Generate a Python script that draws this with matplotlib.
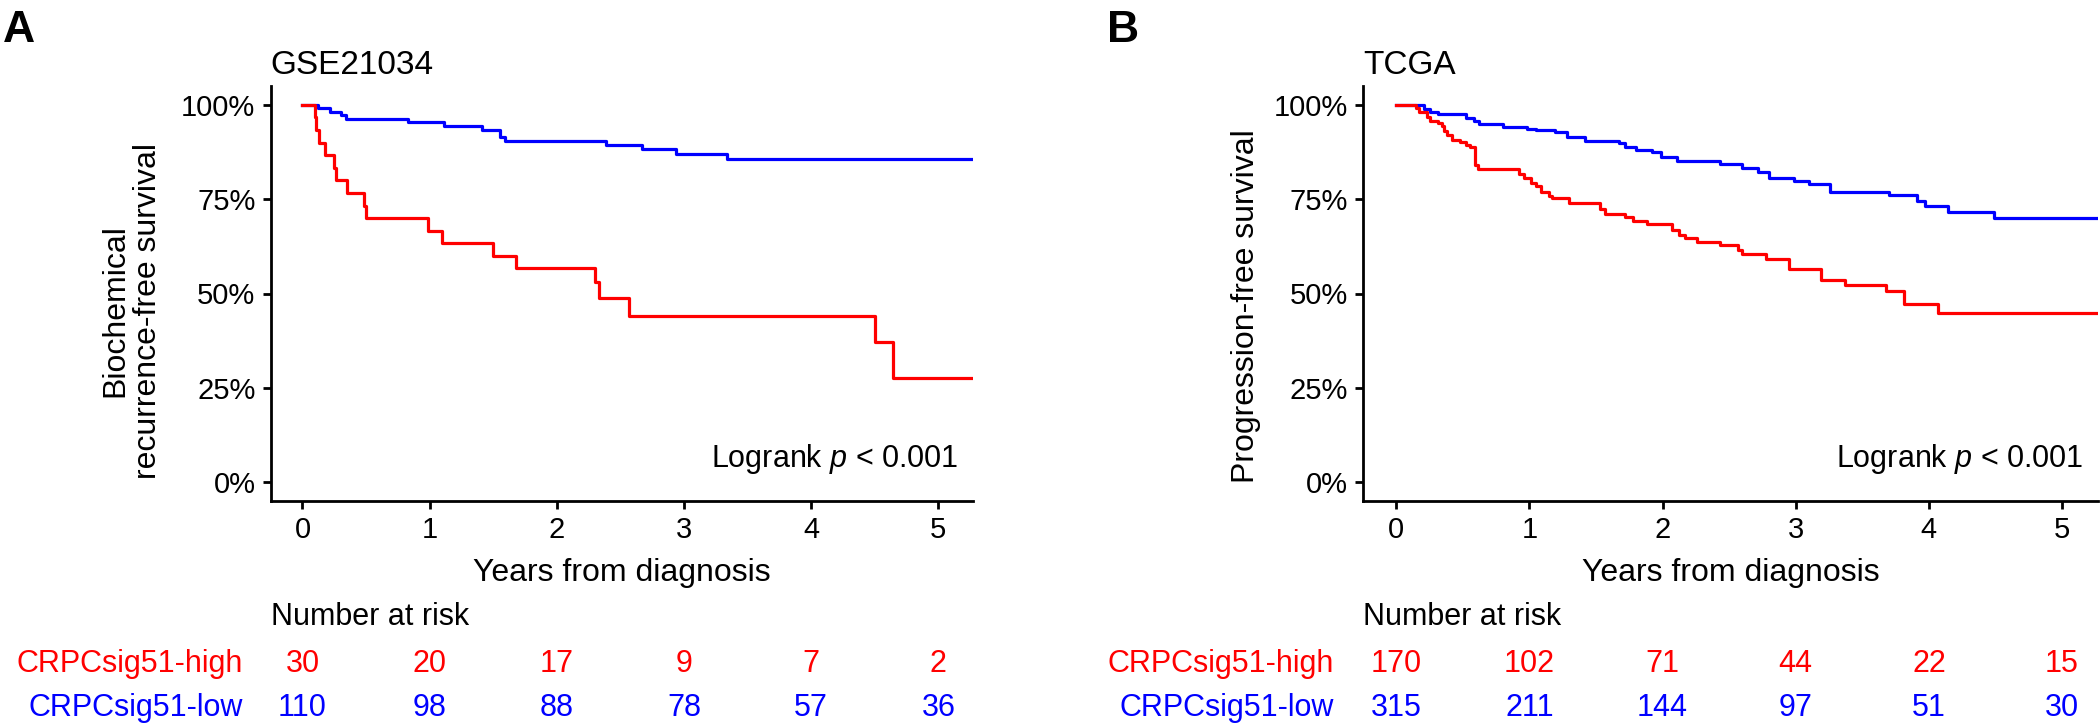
import matplotlib
matplotlib.use('Agg')
import matplotlib.pyplot as plt
import matplotlib.transforms as mtransforms

plt.rcParams['font.family'] = ['Liberation Sans', 'DejaVu Sans']
plt.rcParams['mathtext.fontset'] = 'custom'
plt.rcParams['mathtext.rm'] = 'Liberation Sans'
plt.rcParams['mathtext.it'] = 'Liberation Sans:italic'

# ---- data ----
risk_years = [0, 1, 2, 3, 4, 5]

# GSE21034
gse_high_time = [0.10, 0.11, 0.13, 0.18, 0.25, 0.26, 0.35, 0.48, 0.50, 0.99,
                 1.10, 1.50, 1.68, 2.30, 2.33, 2.57, 4.50, 4.64, 5.30]
gse_high_surv = [0.967, 0.933, 0.900, 0.867, 0.833, 0.800, 0.767, 0.733, 0.700, 0.666,
                 0.633, 0.600, 0.567, 0.531, 0.489, 0.440, 0.371, 0.275, 0.275]
gse_low_time = [0.12, 0.22, 0.30, 0.34, 0.83, 1.11, 1.41, 1.55, 1.59,
                2.39, 2.67, 2.94, 3.34, 5.30]
gse_low_surv = [0.991, 0.982, 0.972, 0.962, 0.954, 0.943, 0.934, 0.915, 0.905,
                0.894, 0.883, 0.870, 0.857, 0.857]
gse_risk_high = [30, 20, 17, 9, 7, 2]
gse_risk_low = [110, 98, 88, 78, 57, 36]

# TCGA
tcga_high_time = [0.15, 0.17, 0.23, 0.25, 0.31, 0.34, 0.36, 0.38, 0.42, 0.48,
                  0.52, 0.555, 0.59, 0.61, 0.92, 0.96, 1.015, 1.05, 1.09, 1.15,
                  1.17, 1.30, 1.53, 1.57, 1.72, 1.78, 1.88, 2.07, 2.125, 2.165,
                  2.26, 2.43, 2.565, 2.60, 2.78, 2.95, 3.19, 3.37, 3.68, 3.81,
                  4.07, 5.30]
tcga_high_surv = [0.991, 0.982, 0.969, 0.956, 0.951, 0.944, 0.932, 0.920, 0.907, 0.902,
                  0.894, 0.889, 0.841, 0.829, 0.817, 0.805, 0.792, 0.784, 0.768, 0.759,
                  0.752, 0.741, 0.723, 0.712, 0.704, 0.693, 0.684, 0.669, 0.655, 0.646,
                  0.637, 0.629, 0.615, 0.605, 0.591, 0.565, 0.536, 0.522, 0.506, 0.472,
                  0.448, 0.448]
tcga_low_time = [0.21, 0.25, 0.31, 0.52, 0.58, 0.62, 0.80, 0.98, 1.05, 1.19,
                 1.28, 1.42, 1.67, 1.72, 1.80, 1.92, 1.99, 2.11, 2.43, 2.60,
                 2.72, 2.80, 2.99, 3.10, 3.26, 3.70, 3.91, 3.97, 4.14, 4.49, 5.30]
tcga_low_surv = [0.989, 0.980, 0.975, 0.965, 0.956, 0.950, 0.941, 0.937, 0.934, 0.927,
                 0.916, 0.905, 0.899, 0.888, 0.881, 0.875, 0.861, 0.851, 0.843, 0.832,
                 0.823, 0.805, 0.799, 0.790, 0.770, 0.761, 0.744, 0.732, 0.715, 0.699, 0.699]
tcga_risk_high = [170, 102, 71, 44, 22, 15]
tcga_risk_low = [315, 211, 144, 97, 51, 30]

RED = '#FF0000'
BLUE = '#0000FF'

fig = plt.figure(figsize=(21, 7.28), dpi=100)

panels = [
    dict(rect=[270.7 / 2100, 227 / 728, 702 / 2100, 415 / 728], letter='A', letter_x=3 / 2100,
         title='GSE21034', ylabel='Biochemical\nrecurrence-free survival',
         ylab_x=132 / 2100, ylab_y=1 - 311 / 728,
         high=(gse_high_time, gse_high_surv), low=(gse_low_time, gse_low_surv),
         risk_high=gse_risk_high, risk_low=gse_risk_low),
    dict(rect=[1363 / 2100, 227 / 728, 735 / 2100, 415 / 728], letter='B', letter_x=1107 / 2100,
         title='TCGA', ylabel='Progression-free survival',
         ylab_x=1246 / 2100, ylab_y=1 - 306 / 728,
         high=(tcga_high_time, tcga_high_surv), low=(tcga_low_time, tcga_low_surv),
         risk_high=tcga_risk_high, risk_low=tcga_risk_low),
]

for p in panels:
    ax = fig.add_axes(p['rect'])
    for (t, s), col in [(p['low'], BLUE), (p['high'], RED)]:
        ax.step([0] + t, [1.0] + s, where='post', color=col, lw=2.3)
    ax.set_xlim(-0.25, 5.27)
    ax.set_ylim(-0.05, 1.05)
    ax.set_xticks(risk_years)
    ax.set_yticks([0, 0.25, 0.5, 0.75, 1.0])
    ax.set_yticklabels(['0%', '25%', '50%', '75%', '100%'])
    for side in ['top', 'right']:
        ax.spines[side].set_visible(False)
    for side in ['left', 'bottom']:
        ax.spines[side].set_linewidth(2)
    ax.tick_params(axis='both', labelsize=21, length=6, width=2, pad=5)
    ax.set_xlabel('Years from diagnosis', fontsize=23, labelpad=10)
    ax.set_title(p['title'], loc='left', fontsize=24, pad=9)
    ax.text(0.98, 0.10, r'Logrank $\mathit{p}$ < 0.001', transform=ax.transAxes,
            ha='right', va='center', fontsize=22)

    fig.text(p['ylab_x'], p['ylab_y'], p['ylabel'], rotation=90, ha='center', va='center',
             fontsize=23, linespacing=1.1, multialignment='center')
    fig.text(p['letter_x'], 1 - 10 / 728, p['letter'], ha='left', va='top',
             fontsize=32, fontweight='bold')

    # risk table
    tr_data = mtransforms.blended_transform_factory(ax.transData, fig.transFigure)
    tr_axes = mtransforms.blended_transform_factory(ax.transAxes, fig.transFigure)
    fig.text(0.0, 1 - 617 / 728, 'Number at risk', transform=tr_axes,
             ha='left', va='center', fontsize=22)
    rows = [('CRPCsig51-high', p['risk_high'], RED, 1 - 664 / 728),
            ('CRPCsig51-low', p['risk_low'], BLUE, 1 - 708 / 728)]
    for name, vals, col, yy in rows:
        fig.text(-0.04, yy, name, transform=tr_axes, ha='right', va='center',
                 fontsize=22, color=col)
        for yr, v in zip(risk_years, vals):
            fig.text(yr, yy, str(v), transform=tr_data, ha='center', va='center',
                     fontsize=22, color=col)

fig.savefig('out.png', dpi=100)
